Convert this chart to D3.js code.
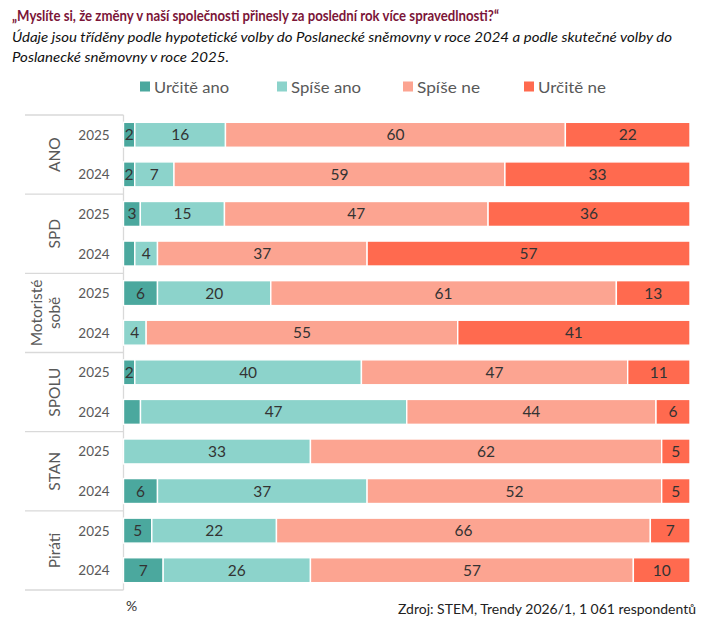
<!DOCTYPE html>
<html><head><meta charset="utf-8">
<script src="https://cdn.jsdelivr.net/npm/d3@7"></script>
<style>
html,body{margin:0;padding:0;background:#fff;}
svg{display:block;font-family:Lato,"Open Sans",sans-serif;}
</style></head>
<body>
<svg id="chart" width="707" height="633"></svg>
<script>
const groups = ["ANO", "SPD", "Motoristé sobě", "SPOLU", "STAN", "Piráti"];
const years = ["2025", "2024"];
const seriesNames = ["Určitě ano", "Spíše ano", "Spíše ne", "Určitě ne"];
// rows in order: group × year
const urciteAno = [2, 2, 3, 2, 6, 0, 2, 3, 0, 6, 5, 7];
const spiseAno  = [16, 7, 15, 4, 20, 4, 40, 47, 33, 37, 22, 26];
const spiseNe   = [60, 59, 47, 37, 61, 55, 47, 44, 62, 52, 66, 57];
const urciteNe  = [22, 33, 36, 57, 13, 41, 11, 6, 5, 5, 7, 10];
const unlabeled = ["SPD 2024", "SPOLU 2024"]; // small "Určitě ano" segments shown without a number
const colors = ["#4ba89e", "#8cd3cb", "#fca491", "#ff6a4f"];
const title = "„Myslíte si, že změny v naší společnosti přinesly za poslední rok více spravedlnosti?“";
const subtitle = ["Údaje jsou tříděny podle hypotetické volby do Poslanecké sněmovny v roce 2024 a podle skutečné volby do",
                  "Poslanecké sněmovny v roce 2025."];
const source = "Zdroj: STEM, Trendy 2026/1, 1 061 respondentů";

const seriesValues = [urciteAno, spiseAno, spiseNe, urciteNe];
const rows = [];
groups.forEach((g, gi) => years.forEach((y, yi) => {
  const i = gi * years.length + yi;
  const r = {id: g + " " + y, group: g, year: y};
  seriesNames.forEach((s, si) => r[s] = seriesValues[si][i]);
  rows.push(r);
}));

const svg = d3.select("#chart");
const pLeft = 123.5, pRight = 690, pTop = 115, pBottom = 590;

const x = d3.scaleLinear().domain([0, 1]).range([pLeft, pRight]);
const y = d3.scaleBand().domain(rows.map(r => r.id)).range([pTop, pBottom])
  .paddingInner(0.37).paddingOuter(0.185);

const stack = d3.stack().keys(seriesNames).offset(d3.stackOffsetExpand);
const stacked = stack(rows);

// Title & subtitle
svg.append("text").attr("x", 12).attr("y", 21)
  .attr("font-size", 15.5).attr("font-weight", "bold").attr("fill", "#7b1538")
  .attr("textLength", 487).attr("lengthAdjust", "spacingAndGlyphs").text(title);
svg.append("text").attr("x", 12).attr("y", 42)
  .attr("font-size", 13.5).attr("font-style", "italic").attr("fill", "#111")
  .attr("textLength", 660).attr("lengthAdjust", "spacingAndGlyphs").text(subtitle[0]);
svg.append("text").attr("x", 12).attr("y", 62)
  .attr("font-size", 13.5).attr("font-style", "italic").attr("fill", "#111")
  .attr("textLength", 217).attr("lengthAdjust", "spacingAndGlyphs").text(subtitle[1]);

// Legend
const legendX = [140, 277, 403, 524];
const legendLen = [75, 70, 63, 68];
const lg = svg.append("g").selectAll("g").data(seriesNames).join("g")
  .attr("transform", (d, i) => `translate(${legendX[i]},0)`);
lg.append("rect").attr("x", 0).attr("y", 81.5).attr("width", 10).attr("height", 10)
  .attr("fill", (d, i) => colors[i]);
lg.append("text").attr("x", 14).attr("y", 92.5).attr("font-size", 16).attr("fill", "#595959")
  .attr("textLength", (d, i) => legendLen[i]).attr("lengthAdjust", "spacingAndGlyphs")
  .text(d => d);

// Frame lines
const gridColor = "#d9d9d9";
const step = y.step();
for (let k = 0; k <= groups.length; k++) {
  const yy = pTop + k * step * years.length;
  svg.append("line").attr("x1", 25).attr("x2", pLeft).attr("y1", yy).attr("y2", yy)
    .attr("stroke", gridColor).attr("stroke-width", 1.3);
}
svg.append("line").attr("x1", pLeft).attr("x2", pLeft).attr("y1", pTop).attr("y2", pBottom)
  .attr("stroke", gridColor).attr("stroke-width", 1.3);

// Bars
const layer = svg.append("g").selectAll("g").data(stacked).join("g")
  .attr("fill", (d, i) => colors[i]);
layer.selectAll("rect").data(d => d.filter(p => p[1] > p[0])).join("rect")
  .attr("x", p => x(p[0])).attr("width", p => x(p[1]) - x(p[0]))
  .attr("y", p => y(p.data.id)).attr("height", y.bandwidth())
  .attr("stroke", "#fff").attr("stroke-width", 1.4);

// Labels
stacked.forEach((s, si) => {
  svg.append("g").selectAll("text")
    .data(s.filter(p => p.data[s.key] > 0 && !(si === 0 && unlabeled.includes(p.data.id))))
    .join("text")
    .attr("x", p => (x(p[0]) + x(p[1])) / 2)
    .attr("y", p => y(p.data.id) + y.bandwidth() / 2 + 5.5)
    .attr("text-anchor", "middle").attr("font-size", 15.5).attr("fill", "#333")
    .text(p => p.data[s.key]);
});

// Year labels
svg.append("g").selectAll("text").data(rows).join("text")
  .attr("x", 94).attr("y", r => y(r.id) + y.bandwidth() / 2 + 5)
  .attr("text-anchor", "middle").attr("font-size", 13.5).attr("fill", "#595959")
  .text(r => r.year);

// Group labels (rotated)
groups.forEach((g, gi) => {
  const cy = pTop + (gi + 0.5) * step * years.length;
  const parts = g.split(" ");
  const lineX = parts.length === 1 ? [54] : [36, 54];
  parts.forEach((p, pi) => {
    svg.append("text")
      .attr("transform", `translate(${lineX[pi] + 5.5},${cy}) rotate(-90)`)
      .attr("text-anchor", "middle").attr("font-size", 15.5).attr("fill", "#595959")
      .text(p);
  });
});

// Bottom texts
svg.append("text").attr("x", 126).attr("y", 611).attr("font-size", 14).attr("fill", "#333").text("%");
svg.append("text").attr("x", 696).attr("y", 614).attr("text-anchor", "end")
  .attr("font-size", 14).attr("fill", "#222")
  .attr("textLength", 298).attr("lengthAdjust", "spacingAndGlyphs").text(source);
</script>
</body></html>
